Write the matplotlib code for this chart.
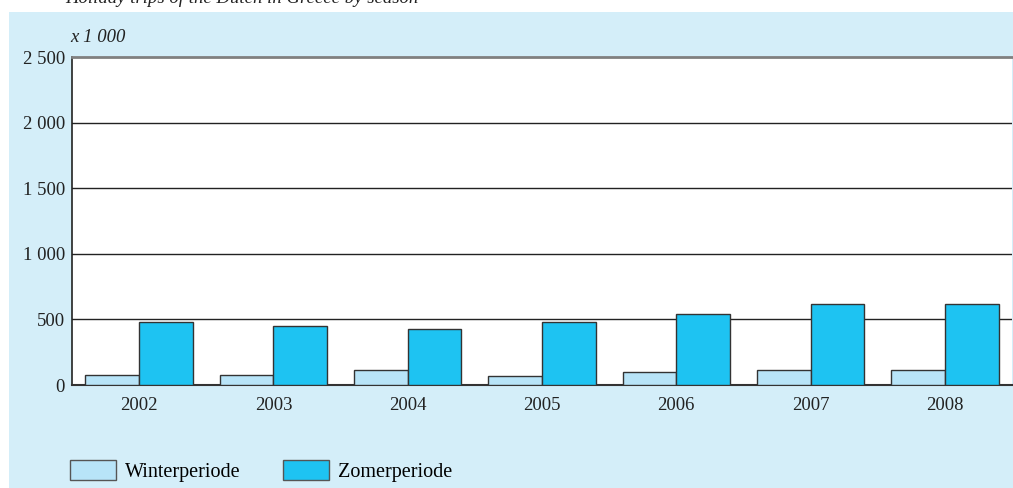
import matplotlib
matplotlib.use("Agg")
import matplotlib.pyplot as plt
import numpy as np
from matplotlib.patches import Rectangle, Patch

years = ["2002", "2003", "2004", "2005", "2006", "2007", "2008"]
winter = [80, 80, 115, 70, 100, 114, 114]
zomer = [480, 452, 427, 480, 541, 620, 620]
yticks = [0, 500, 1000, 1500, 2000, 2500]
ytick_labels = ["0", "500", "1 000", "1 500", "2 000", "2 500"]

W, H = 1013, 488
FS = 13.5
plt.rcParams['font.family'] = ['Liberation Serif', 'DejaVu Serif']
fig = plt.figure(figsize=(W / 100, H / 100), dpi=100)
fig.patch.set_facecolor("white")

# blue panel
panel = Rectangle((9 / W, 0), 1 - 9 / W, (H - 12) / H, transform=fig.transFigure,
                  facecolor="#d4eef9", edgecolor="none", zorder=-10)
fig.add_artist(panel)

ax = fig.add_axes([72 / W, (H - 385) / H, 940 / W, 328 / H])
ax.set_zorder(1)
ax.set_facecolor("white")

x = np.arange(len(years))
bw = 0.4
c_w = "#b8e4f8"
c_z = "#1ec3f2"
ax.bar(x - bw / 2, winter, width=bw, color=c_w, edgecolor="#333333", linewidth=1.0, zorder=3)
ax.bar(x + bw / 2, zomer, width=bw, color=c_z, edgecolor="#333333", linewidth=1.0, zorder=3)

ax.set_xlim(-0.5, len(years) - 0.5)
ax.set_ylim(0, 2500)
ax.set_yticks(yticks)
ax.set_yticklabels(ytick_labels)
ax.set_xticks(x)
ax.set_xticklabels(years)
ax.tick_params(axis="both", length=0, labelsize=FS, colors="#222222")
ax.tick_params(axis="y", pad=5)
ax.tick_params(axis="x", pad=9)

for v in yticks[1:-1]:
    ax.axhline(v, color="#222222", linewidth=1.0, zorder=1)

ax.spines["right"].set_visible(False)
ax.spines["top"].set_color("#808080")
ax.spines["top"].set_linewidth(2)
ax.spines["left"].set_color("#222222")
ax.spines["left"].set_linewidth(1.2)
ax.spines["bottom"].set_color("#333333")
ax.spines["bottom"].set_linewidth(1.5)

fig.text(70 / W, 1 - 37 / H, "x 1 000", fontsize=FS, style="italic", ha="left", va="center",
         color="#222222")
fig.text(65 / W, 1 - 3 / H, "Holiday trips of the Dutch in Greece by season", fontsize=FS,
         style="italic", ha="left", va="baseline", color="#222222")

handles = [Patch(facecolor=c_w, edgecolor="#555555", linewidth=1.0, label="Winterperiode"),
           Patch(facecolor=c_z, edgecolor="#555555", linewidth=1.0, label="Zomerperiode")]
fig.legend(handles=handles, loc="center left", bbox_to_anchor=(70 / W, 1 - 471 / H), ncol=2,
           frameon=False, fontsize=14.5, handlelength=2.28, handleheight=1.14,
           handletextpad=0.45, columnspacing=2.1, borderpad=0, borderaxespad=0)

fig.savefig("out.png", dpi=100)
